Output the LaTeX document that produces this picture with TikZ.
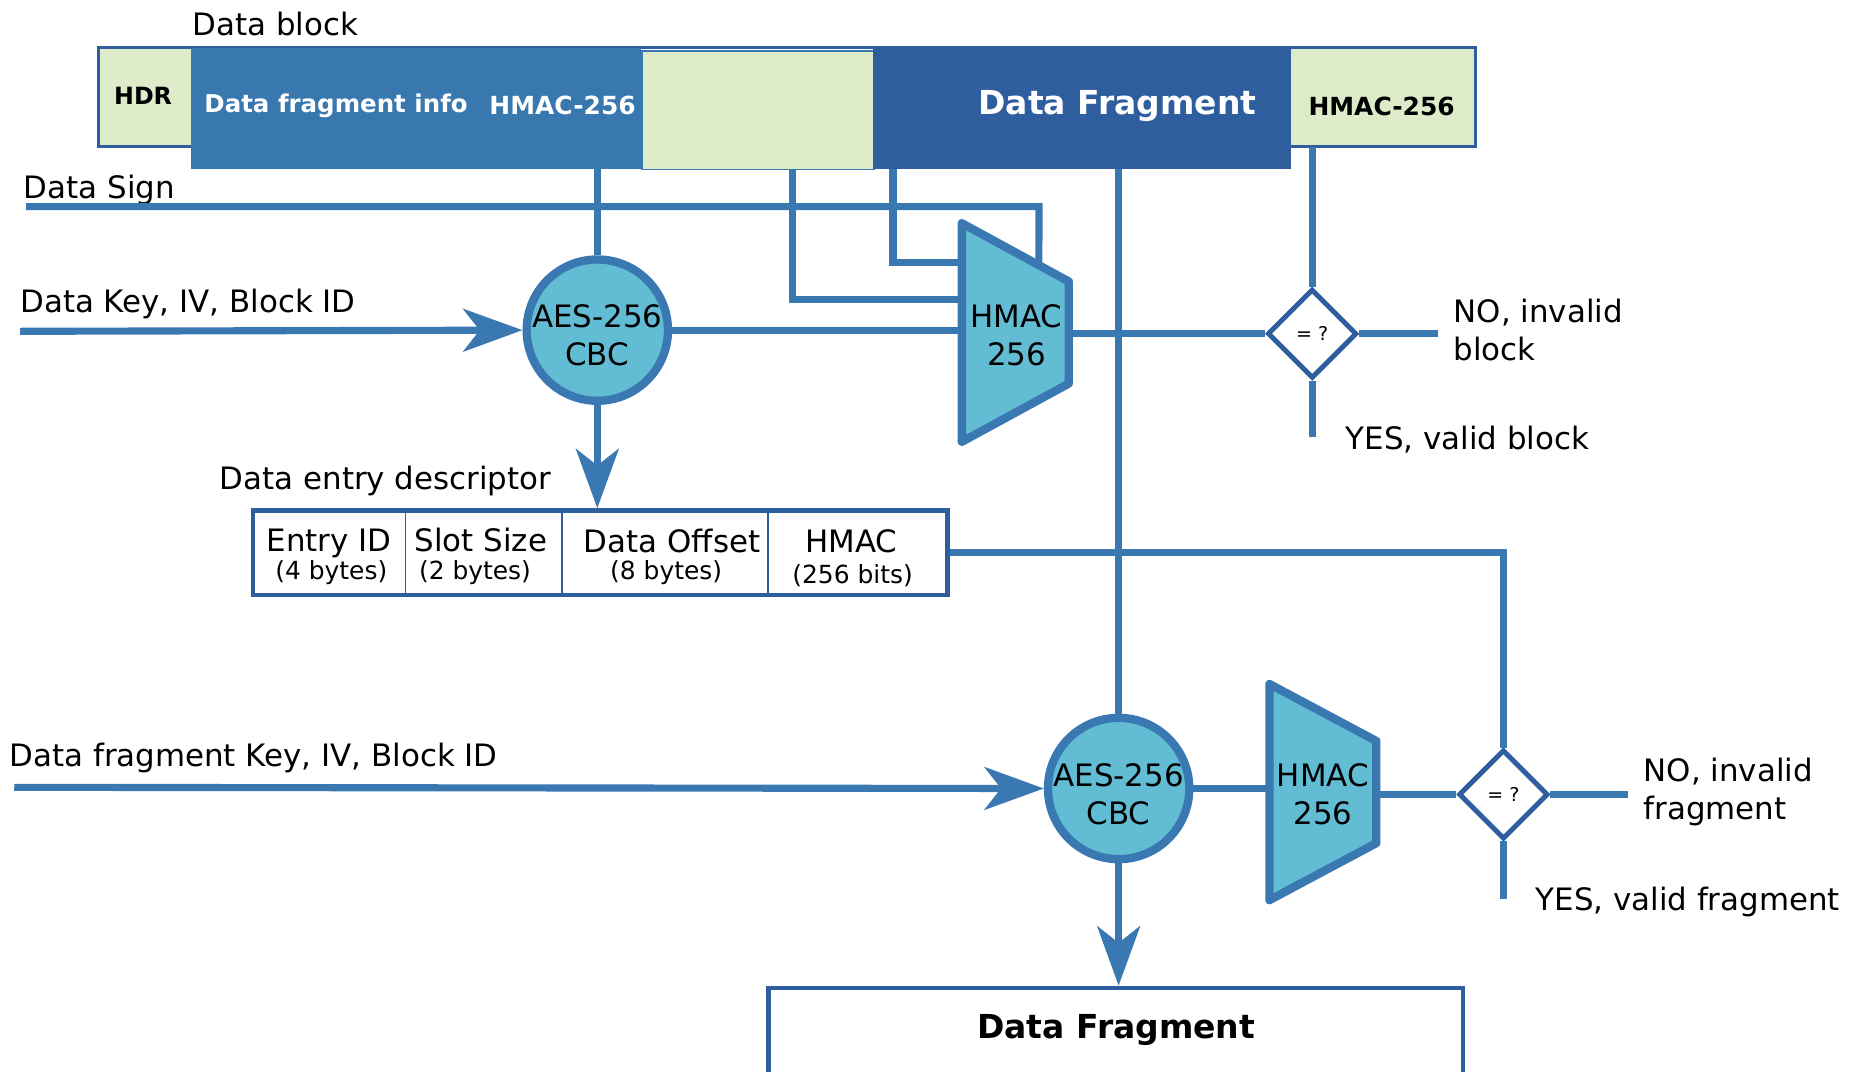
\documentclass[tikz,border=0pt]{standalone}
\usepackage{fontspec}
\setmainfont{DejaVu Sans}
\usetikzlibrary{arrows.meta,shapes.geometric,calc}
\definecolor{wireblue}{HTML}{3A78B2}
\definecolor{frameblue}{HTML}{2E5E9E}
\definecolor{cipherfill}{HTML}{62BDD4}
\definecolor{palegreen}{HTML}{DDEBC9}
\definecolor{infoblue}{HTML}{3878AF}
\definecolor{fragblue}{HTML}{2E5E9E}
\begin{document}
\begin{tikzpicture}[x=1pt,y=-1pt,
  wire/.style={draw=wireblue,line width=6pt},
  feed/.style={wire,-{Stealth[length=50pt,width=36pt,inset=14pt]}},
  lbl/.style={font=\fontsize{26}{32}\selectfont,inner sep=0pt,anchor=west,align=left},
  cipher/.style={circle,draw=wireblue,line width=7pt,fill=cipherfill,minimum size=119pt,
    inner sep=0pt},
  cmp/.style={diamond,draw=frameblue,line width=4pt,fill=white,minimum width=75pt,
    minimum height=75pt,inner sep=0pt,font=\fontsize{16}{18}\selectfont},
  macbody/.style={draw=wireblue,line width=7pt,fill=cipherfill,line join=round},
  mactext/.style={font=\fontsize{26}{32}\selectfont,align=center,inner sep=0pt},
  seg/.style={inner sep=0pt,anchor=north west},
  segtext/.style={inner sep=0pt,font=\bfseries\fontsize{21}{24}\selectfont},
  field/.style={inner sep=0pt,anchor=north west,minimum height=71pt},
  fname/.style={inner sep=0pt,anchor=base,font=\fontsize{26}{30}\selectfont},
  fsize/.style={inner sep=0pt,anchor=base,font=\fontsize{21}{24}\selectfont},
]
\useasboundingbox (0,0) rectangle (1568,902);

% ---------- data block layout ----------
\node[seg,fill=palegreen,minimum width=78pt,minimum height=83pt] (hdr) at (83,40) {};
\node[seg,fill=palegreen,minimum width=155pt,minimum height=83pt] (tag) at (1087,40) {};
\draw[frameblue,line width=2.5pt] (hdr.north west) rectangle (tag.south east);
\node[seg,fill=infoblue,minimum width=379pt,minimum height=102pt] (info) at (161,40) {};
\node[seg,fill=palegreen,draw=wireblue,line width=1.5pt,minimum width=195pt,minimum height=100pt] (gap) at (540,42) {};
\node[seg,fill=fragblue,minimum width=352pt,minimum height=102pt] (frag) at (735,40) {};

\node[segtext,font=\bfseries\fontsize{20}{24}\selectfont] (hdrtxt) at (120.5,81) {HDR};
\node[segtext,white,font=\bfseries\fontsize{20.6}{24}\selectfont,anchor=west] (infotxt) at (172,89) {Data fragment info};
\node[segtext,white,anchor=west] (infomac) at (412,89) {HMAC-256};
\node[segtext,white,font=\bfseries\fontsize{27.8}{32}\selectfont] (fragtxt) at (941,89) {Data Fragment};
\node[segtext] (tagtxt) at (1163.5,90) {HMAC-256};

\node[lbl,anchor=base west] (blocklbl) at (162,29.5) {Data block};

% ---------- block check ----------
\node[cipher] (aes1) at (503,278) {};
\node[mactext] (aes1txt) at (503,282) {AES-256\\CBC};
\coordinate (m1a) at (810,188);
\coordinate (m1b) at (900,237);
\coordinate (m1c) at (900,323);
\coordinate (m1d) at (810,372);
\node[cmp] (cmp1) at (1105,281) {};

\node[lbl,anchor=base west] (signlbl) at (20,167.5) {Data Sign};
\node[lbl,anchor=base west] (keylbl) at (17,263.5) {Data Key, IV, Block ID};
\coordinate (signin) at (22,174);
\coordinate (keyin) at (17,279);

\draw[wire] (signin) -- (875,174) -- ($(m1a)!0.72!(m1b)$);
\draw[wire] ([xshift=127pt]gap.south west) -- (667,252) -- (m1a |- 0,252);
\draw[wire] ([xshift=17pt]frag.south west) |- (m1a |- 0,221);
\draw[wire] (aes1.north |- info.south) -- (aes1.north);
\draw[feed] (keyin) -- (aes1.west);
\draw[wire] (aes1.east) -- (m1a |- aes1.east);

\filldraw[macbody] (m1a) -- (m1b) -- (m1c) -- (m1d) -- cycle;
\node[mactext] (mac1) at (856,282) {HMAC\\256};

\draw[wire] (m1b |- cmp1) -- (cmp1.west);
\draw[wire] (cmp1.north |- tag.south) -- (cmp1.north);
\coordinate (no1) at (1211,281);
\coordinate (yes1) at (1105,368);
\draw[wire] (cmp1.east) -- (no1);
\draw[wire] (cmp1.south) -- (yes1);
\node[cmp] (cmp1face) at (cmp1) {= ?};
\node[lbl] (no1lbl) at (1224,278) {NO, invalid\\block};
\node[lbl,anchor=base west] (yes1lbl) at (1133,378.5) {YES, valid block};

% ---------- data entry descriptor ----------
\node[lbl,anchor=base west] (desclbl) at (185,412.5) {Data entry descriptor};
\node[draw=frameblue,line width=4pt,minimum width=585pt,minimum height=71pt,inner sep=0pt] (desc) at (505.5,465.5) {};
\node[field,minimum width=128pt] (f1) at (213,430) {};
\node[field,minimum width=132pt] (f2) at (341,430) {};
\node[field,minimum width=173pt] (f3) at (473,430) {};
\node[field,minimum width=152pt] (f4) at (646,430) {};
\draw[frameblue,line width=1.5pt] (f1.north east) -- (f1.south east);
\draw[frameblue,line width=1.5pt] (f2.north east) -- (f2.south east);
\draw[frameblue,line width=1.5pt] (f3.north east) -- (f3.south east);
\node[fname] (f1name) at (277,464.5) {Entry ID};
\node[fsize] (f1size) at (279,488) {(4 bytes)};
\node[fname] (f2name) at (405,464.5) {Slot Size};
\node[fsize] (f2size) at (400,488) {(2 bytes)};
\node[fname] (f3name) at (566,465) {Data Offset};
\node[fsize] (f3size) at (561,488) {(8 bytes)};
\node[fname] (f4name) at (717,465) {HMAC};
\node[fsize] (f4size) at (718,491) {(256 bits)};
\draw[feed] (aes1.south) -- (aes1.south |- desc.north);

% ---------- fragment check ----------
\node[cipher] (aes2) at (942,664) {};
\node[mactext] (aes2txt) at (942,669) {AES-256\\CBC};
\coordinate (m2a) at (1069,576);
\coordinate (m2b) at (1159,624);
\coordinate (m2c) at (1159,710);
\coordinate (m2d) at (1069,758);
\node[cmp] (cmp2) at (1266,669) {};

\node[lbl,anchor=base west] (fkeylbl) at (8,645.5) {Data fragment Key, IV, Block ID};
\coordinate (fkeyin) at (12,663);
\draw[feed] (fkeyin) -- (aes2.west);
\draw[wire] (aes2.north |- frag.south) -- (aes2.north);
\draw[wire] (aes2.east) -- (m2a |- aes2.east);
\filldraw[macbody] (m2a) -- (m2b) -- (m2c) -- (m2d) -- cycle;
\node[mactext] (mac2) at (1114,669) {HMAC\\256};
\draw[wire] (m2b |- cmp2) -- (cmp2.west);
\draw[wire] (desc.east) -| (cmp2.north);
\coordinate (no2) at (1371,669);
\coordinate (yes2) at (1266,757);
\draw[wire] (cmp2.east) -- (no2);
\draw[wire] (cmp2.south) -- (yes2);
\node[cmp] (cmp2face) at (cmp2) {= ?};
\node[lbl] (no2lbl) at (1384,667) {NO, invalid\\fragment};
\node[lbl,anchor=base west] (yes2lbl) at (1293,766.5) {YES, valid fragment};

% ---------- recovered fragment ----------
\node[seg,draw=frameblue,line width=4pt,minimum width=585pt,minimum height=90pt] (out) at (645,830) {};
\draw[feed] (aes2.south) -- (aes2.south |- out.north);
\node[segtext,font=\bfseries\fontsize{27.8}{32}\selectfont] (outtxt) at (940,867) {Data Fragment};
\end{tikzpicture}
\end{document}
